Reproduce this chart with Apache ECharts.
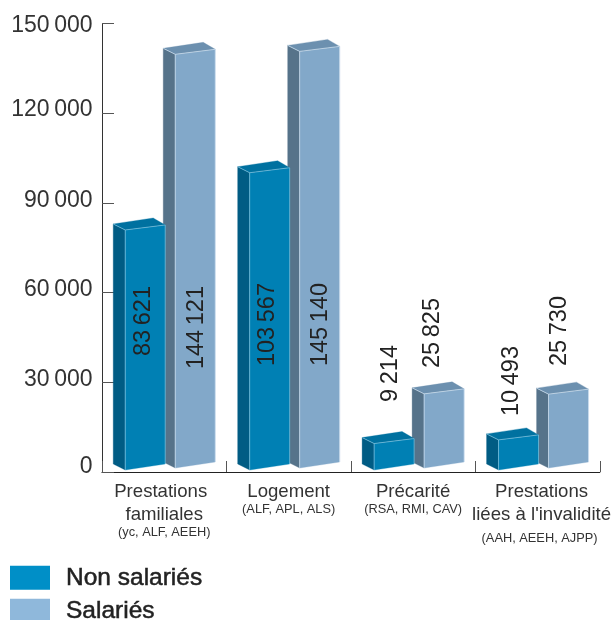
<!DOCTYPE html>
<html>
<head>
<meta charset="utf-8">
<style>html,body{margin:0;padding:0;background:#fff;overflow:hidden}#c{width:614px;height:620px}</style>
<script src="https://cdn.jsdelivr.net/npm/echarts@6/dist/echarts.min.js"></script>
</head>
<body>
<div id="c"></div>
<script>
const categories = ['Prestations familiales', 'Logement', 'Précarité', "Prestations liées à l'invalidité"];
const nonSalaries = [83621, 103567, 9214, 10493];
const salaries = [144121, 145140, 25825, 25730];
const yTicks = [0, 30000, 60000, 90000, 120000, 150000];
const seriesNames = ['Non salariés', 'Salariés'];
const sourceText = 'Source : MSA';

const FONT = '"Liberation Sans", Arial, sans-serif';
const fmt = (v, sep) => String(v).replace(/\B(?=(\d{3})+$)/g, sep);

// label layout: [x offset from category centre, y of the label's upper end]
const nonLabelPos = [[-20.3, 286], [-21.5, 283], [-23, 345], [-26.3, 346]];
const salLabelPos = [[32, 286], [31.5, 283], [19.7, 298], [22, 296]];

const styles = {
  non: { front: '#0080B4', side: '#005C84', top: '#0071A0', edge: 'rgba(150,210,235,0.75)',
         dx: -51, base: 2, legend: '#008FC7' },
  sal: { front: '#82A8C9', side: '#56738A', top: '#6C90AF', edge: 'rgba(215,232,245,0.85)',
         dx: -1, base: 4, legend: '#8FB8DB' }
};
const W = 40, D = 12, RISE = 6, PERSP = 0.96;

function renderBar(s, pos) {
  return function (params, api) {
    const i = api.value(0), v = api.value(1);
    const c = api.coord([i, 0]);
    const h = api.size([0, v])[1] * PERSP;
    const xl = c[0] + s.dx, xf = xl + D, xr = xf + W;
    const yb = c[1] - s.base;           // front-left bottom
    const yt = yb - h;                  // front-left top
    const frontBL = [xf, yb], frontBR = [xr, yb - RISE];
    const frontTL = [xf, yt], frontTR = [xr, yt - RISE + 1];
    const sideBL = [xl, yb - RISE], sideTL = [xl, yt - RISE];
    const backTR = [xr - D, yt - RISE * 2];
    const poly = (pts, fill) => ({ type: 'polygon', shape: { points: pts }, style: { fill: fill, stroke: fill, lineWidth: 0.3 } });
    const line = (pts) => ({ type: 'polyline', shape: { points: pts }, style: { fill: null, stroke: s.edge, lineWidth: 0.8 } });
    const lp = pos[i];
    return {
      type: 'group',
      children: [
        poly([sideTL, frontTL, frontBL, sideBL], s.side),
        poly([frontTL, frontTR, frontBR, frontBL], s.front),
        poly([sideTL, backTR, frontTR, frontTL], s.top),
        line([sideTL, frontTL, frontTR]),
        line([frontBL, frontTL]),
        line([frontTR, frontBR]),
        {
          type: 'text', x: c[0] + lp[0], y: lp[1], rotation: Math.PI / 2, z2: 10,
          style: { text: fmt(v, '\u2009'), textAlign: 'right', textVerticalAlign: 'middle',
                   font: '23.5px ' + FONT, fill: '#222' }
        }
      ]
    };
  };
}

const yRich = {};
const yPad = { 0: [0, 0, 10, 0], 30000: [0, 0, 6, 0], 60000: [0, 0, 5, 0], 90000: [0, 0, 4, 0], 120000: [0, 0, 8, 0], 150000: [4, 0, 0, 0] };
yTicks.forEach(t => {
  yRich['t' + t] = { fontSize: 23, fontFamily: FONT, color: '#333', padding: yPad[t] };
});

const m = { fontSize: 18.6, fontFamily: FONT, color: '#333', lineHeight: 23 };
const s = { fontSize: 12.8, fontFamily: FONT, color: '#333', lineHeight: 12 };
const xLabels = [
  '{mL|Prestations}\n{m|familiales}\n{s|(yc, ALF, AEEH)}',
  '{m|Logement}\n{s|(ALF, APL, ALS)}',
  '{m|Précarité}\n{s|(RSA, RMI, CAV)}',
  "{mR|Prestations}\n{mR|liées à l'invalidité}\n{sR|(AAH, AEEH, AJPP)}"
];

const legendBase = {
  orient: 'vertical', left: 10, itemWidth: 40, itemHeight: 24, padding: 0,
  selectedMode: false, icon: 'rect',
  textStyle: { fontFamily: FONT, fontSize: 24.5, color: '#222', padding: [4, 0, 0, 11],
               textBorderColor: '#222', textBorderWidth: 0.5 }
};

const chart = echarts.init(document.getElementById('c'), null, { renderer: 'canvas' });
chart.setOption({
  animation: false,
  backgroundColor: '#fff',
  grid: { left: 102, right: 14, top: 23.5, bottom: 148, containLabel: false },
  xAxis: {
    type: 'category', data: categories,
    axisLine: { lineStyle: { color: '#222', width: 1.2 } },
    axisTick: { show: true, inside: true, length: 11, interval: 0, alignWithLabel: false, lineStyle: { color: '#555', width: 1 } },
    axisLabel: {
      interval: 0, margin: 8.5,
      formatter: (val, idx) => xLabels[idx],
      rich: {
        m: m, s: s,
        mL: Object.assign({}, m, { padding: [0, 7, 0, 0] }),
        mR: Object.assign({}, m, { padding: [0, 0, 0, 8] }),
        sR: Object.assign({}, s, { lineHeight: 23, padding: [0, 0, 0, 4] })
      }
    }
  },
  yAxis: {
    type: 'value', min: 0, max: 150000, interval: 30000,
    splitLine: { show: false },
    axisLine: { show: true, lineStyle: { color: '#333', width: 1 } },
    axisTick: { show: true, inside: true, length: 12, lineStyle: { color: '#555', width: 1 } },
    axisLabel: {
      margin: 9.5,
      formatter: v => '{t' + v + '|' + fmt(v, '\u2009') + '}',
      rich: yRich
    }
  },
  legend: [
    Object.assign({}, legendBase, { top: 565, data: [{ name: seriesNames[0], itemStyle: { color: styles.non.legend } }] }),
    Object.assign({}, legendBase, { top: 598, data: [{ name: seriesNames[1], itemStyle: { color: styles.sal.legend } }] })
  ],
  graphic: [{
    type: 'text', x: 491, y: 619,
    style: { text: sourceText, font: '17px ' + FONT, fill: '#666', textVerticalAlign: 'top' }
  }],
  series: [
    { name: seriesNames[1], type: 'custom', z: 2, clip: false, itemStyle: { color: styles.sal.legend },
      encode: { x: 0, y: 1 }, data: salaries.map((v, i) => [i, v]), renderItem: renderBar(styles.sal, salLabelPos) },
    { name: seriesNames[0], type: 'custom', z: 3, clip: false, itemStyle: { color: styles.non.legend },
      encode: { x: 0, y: 1 }, data: nonSalaries.map((v, i) => [i, v]), renderItem: renderBar(styles.non, nonLabelPos) }
  ]
});
</script>
</body>
</html>
